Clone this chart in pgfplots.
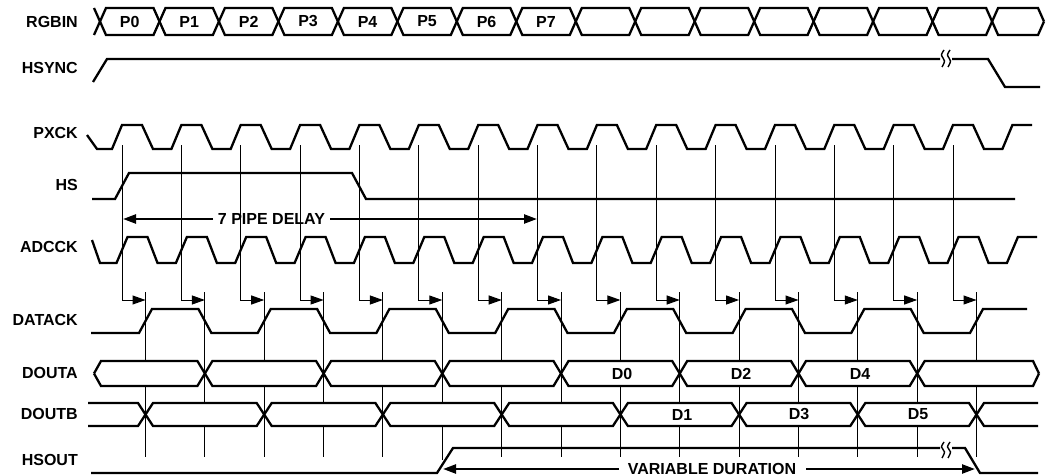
\documentclass[border=0pt]{standalone}
\usepackage{fontspec}
\setmainfont{Liberation Sans}
\usepackage{pgfplots}
\pgfplotsset{compat=1.18}
\usetikzlibrary{arrows.meta}
\tikzset{
  sig/.style={black,line width=2.3pt},
  thn/.style={black,line width=1.0pt},
  sq/.style={black,line width=1.4pt,smooth},
  tip/.style={-{Triangle[length=13pt,width=9pt]}},
  lab/.style={font=\bfseries\fontsize{16}{19}\selectfont, inner sep=0pt, text=black},
}
\begin{document}
\begin{tikzpicture}
\begin{axis}[width=1046pt,height=476pt,scale only axis,
  xmin=0,xmax=1046,ymin=0,ymax=476,y dir=reverse,hide axis,clip=false]
\addplot[draw=none] coordinates {(0,0) (1046,476)};
% ---------- signal names
\node[lab,anchor=east] at (axis cs:78,21.5) {RGBIN};
\node[lab,anchor=east] at (axis cs:78,68) {HSYNC};
\node[lab,anchor=east] at (axis cs:78,133) {PXCK};
\node[lab,anchor=east] at (axis cs:78,185) {HS};
\node[lab,anchor=east] at (axis cs:78,247) {ADCCK};
\node[lab,anchor=east] at (axis cs:78,320) {DATACK};
\node[lab,anchor=east] at (axis cs:78,373) {DOUTA};
\node[lab,anchor=east] at (axis cs:78,414) {DOUTB};
\node[lab,anchor=east] at (axis cs:78,460) {HSOUT};
% ---------- RGBIN bus
\addplot[sig] coordinates {(94,35) (106,8) (153.5,8) (165.5,35) (212.9,35) (224.9,8) (272.4,8) (284.4,35) (331.9,35) (343.9,8) (391.4,8) (403.4,35) (450.8,35) (462.8,8) (510.3,8) (522.3,35) (569.8,35) (581.8,8) (629.2,8) (641.2,35) (688.7,35) (700.7,8) (748.2,8) (760.2,35) (807.6,35) (819.6,8) (867.1,8) (879.1,35) (926.6,35) (938.6,8) (986.1,8) (998.1,35) (1038,35) (1044,21.5)};
\addplot[sig] coordinates {(94,8) (106,35) (153.5,35) (165.5,8) (212.9,8) (224.9,35) (272.4,35) (284.4,8) (331.9,8) (343.9,35) (391.4,35) (403.4,8) (450.8,8) (462.8,35) (510.3,35) (522.3,8) (569.8,8) (581.8,35) (629.2,35) (641.2,8) (688.7,8) (700.7,35) (748.2,35) (760.2,8) (807.6,8) (819.6,35) (867.1,35) (879.1,8) (926.6,8) (938.6,35) (986.1,35) (998.1,8) (1038,8) (1044,21.5)};
\node[lab] at (axis cs:129.7,21.5) {P0};
\node[lab] at (axis cs:189.2,21.5) {P1};
\node[lab] at (axis cs:248.7,21.5) {P2};
\node[lab] at (axis cs:308.1,21.5) {P3};
\node[lab] at (axis cs:367.6,21.5) {P4};
\node[lab] at (axis cs:427.1,21.5) {P5};
\node[lab] at (axis cs:486.6,21.5) {P6};
\node[lab] at (axis cs:546,21.5) {P7};
% ---------- HSYNC
\addplot[sig] coordinates {(93,82) (107,59) (940,59)};
\addplot[sig] coordinates {(952,59) (988,59) (1005,87) (1040,87)};
\addplot[sq] coordinates {(944,50) (941.5,55) (944.5,61) (942,67)};
\addplot[sq] coordinates {(950,50) (947.5,55) (950.5,61) (948,67)};
% ---------- PXCK
\addplot[sig] coordinates {(87,135) (97,149)
 (112,149) (122,125) (142,125) (153,149)
 (171.4,149) (181.4,125) (201.4,125) (212.4,149)
 (230.7,149) (240.7,125) (260.7,125) (271.7,149)
 (290.1,149) (300.1,125) (320.1,125) (331.1,149)
 (349.4,149) (359.4,125) (379.4,125) (390.4,149)
 (408.8,149) (418.8,125) (438.8,125) (449.8,149)
 (468.2,149) (478.2,125) (498.2,125) (509.2,149)
 (527.5,149) (537.5,125) (557.5,125) (568.5,149)
 (586.9,149) (596.9,125) (616.9,125) (627.9,149)
 (646.2,149) (656.2,125) (676.2,125) (687.2,149)
 (705.6,149) (715.6,125) (735.6,125) (746.6,149)
 (765,149) (775,125) (795,125) (806,149)
 (824.3,149) (834.3,125) (854.3,125) (865.3,149)
 (883.7,149) (893.7,125) (913.7,125) (924.7,149)
 (943,149) (953,125) (973,125) (984,149)
 (1002.4,149) (1012.4,125) (1032,125)};
% ---------- HS
\addplot[sig] coordinates {(92,199) (115,199) (129,173) (352,173) (366,199) (1015,199)};
% ---------- 7 PIPE DELAY
\addplot[sig,tip] coordinates {(213,219) (123,219)};
\addplot[sig,tip] coordinates {(330,219) (537,219)};
\node[lab] at (axis cs:271.5,219) {7 PIPE DELAY};
% ---------- ADCCK
\addplot[sig] coordinates {(92,240) (100,263)
 (116.5,263) (127.5,237) (147.5,237) (157.5,263)
 (175.9,263) (186.9,237) (206.9,237) (216.9,263)
 (235.2,263) (246.2,237) (266.2,237) (276.2,263)
 (294.6,263) (305.6,237) (325.6,237) (335.6,263)
 (353.9,263) (364.9,237) (384.9,237) (394.9,263)
 (413.3,263) (424.3,237) (444.3,237) (454.3,263)
 (472.7,263) (483.7,237) (503.7,237) (513.7,263)
 (532,263) (543,237) (563,237) (573,263)
 (591.4,263) (602.4,237) (622.4,237) (632.4,263)
 (650.7,263) (661.7,237) (681.7,237) (691.7,263)
 (710.1,263) (721.1,237) (741.1,237) (751.1,263)
 (769.5,263) (780.5,237) (800.5,237) (810.5,263)
 (828.8,263) (839.8,237) (859.8,237) (869.8,263)
 (888.2,263) (899.2,237) (919.2,237) (929.2,263)
 (947.5,263) (958.5,237) (978.5,237) (988.5,263)
 (1006.9,263) (1017.9,237) (1037,237)};
% ---------- guide lines from PXCK to DATACK
\addplot[thn,tip] coordinates {(122,145) (122,300) (145.5,300)};
\addplot[thn,tip] coordinates {(181.4,145) (181.4,300) (204.9,300)};
\addplot[thn,tip] coordinates {(240.7,145) (240.7,300) (264.2,300)};
\addplot[thn,tip] coordinates {(300.1,145) (300.1,300) (323.6,300)};
\addplot[thn,tip] coordinates {(359.4,145) (359.4,300) (382.9,300)};
\addplot[thn,tip] coordinates {(418.8,145) (418.8,300) (442.3,300)};
\addplot[thn,tip] coordinates {(478.2,145) (478.2,300) (501.7,300)};
\addplot[thn,tip] coordinates {(537.5,145) (537.5,300) (561.0,300)};
\addplot[thn,tip] coordinates {(596.9,145) (596.9,300) (620.4,300)};
\addplot[thn,tip] coordinates {(656.2,145) (656.2,300) (679.7,300)};
\addplot[thn,tip] coordinates {(715.6,145) (715.6,300) (739.1,300)};
\addplot[thn,tip] coordinates {(775.0,145) (775.0,300) (798.5,300)};
\addplot[thn,tip] coordinates {(834.3,145) (834.3,300) (857.8,300)};
\addplot[thn,tip] coordinates {(893.7,145) (893.7,300) (917.2,300)};
\addplot[thn,tip] coordinates {(953.0,145) (953.0,300) (976.5,300)};
% ---------- DATACK verticals (even: DOUTB edge, odd: DOUTA edge)
\addplot[thn] coordinates {(145.5,292) (145.5,361)};  \addplot[thn] coordinates {(145.5,386) (145.5,457)};
\addplot[thn] coordinates {(204.9,292) (204.9,403)};  \addplot[thn] coordinates {(204.9,426) (204.9,457)};
\addplot[thn] coordinates {(264.2,292) (264.2,361)};  \addplot[thn] coordinates {(264.2,386) (264.2,457)};
\addplot[thn] coordinates {(323.6,292) (323.6,403)};  \addplot[thn] coordinates {(323.6,426) (323.6,457)};
\addplot[thn] coordinates {(382.9,292) (382.9,361)};  \addplot[thn] coordinates {(382.9,386) (382.9,457)};
\addplot[thn] coordinates {(442.3,292) (442.3,403)};  \addplot[thn] coordinates {(442.3,426) (442.3,460)};
\addplot[thn] coordinates {(501.7,292) (501.7,361)};  \addplot[thn] coordinates {(501.7,386) (501.7,457)};
\addplot[thn] coordinates {(561.0,292) (561.0,403)};  \addplot[thn] coordinates {(561.0,426) (561.0,457)};
\addplot[thn] coordinates {(620.4,292) (620.4,361)};  \addplot[thn] coordinates {(620.4,386) (620.4,457)};
\addplot[thn] coordinates {(679.7,292) (679.7,403)};  \addplot[thn] coordinates {(679.7,426) (679.7,457)};
\addplot[thn] coordinates {(739.1,292) (739.1,361)};  \addplot[thn] coordinates {(739.1,386) (739.1,457)};
\addplot[thn] coordinates {(798.5,292) (798.5,403)};  \addplot[thn] coordinates {(798.5,426) (798.5,457)};
\addplot[thn] coordinates {(857.8,292) (857.8,361)};  \addplot[thn] coordinates {(857.8,386) (857.8,457)};
\addplot[thn] coordinates {(917.2,292) (917.2,403)};  \addplot[thn] coordinates {(917.2,426) (917.2,457)};
\addplot[thn] coordinates {(976.5,292) (976.5,361)};  \addplot[thn] coordinates {(976.5,386) (976.5,457)};
% ---------- DATACK
\addplot[sig] coordinates {(91,333)
 (139,333) (152,309) (198.4,309) (211.4,333)
 (257.7,333) (270.7,309) (317.1,309) (330.1,333)
 (376.4,333) (389.4,309) (435.8,309) (448.8,333)
 (495.2,333) (508.2,309) (554.5,309) (567.5,333)
 (613.9,333) (626.9,309) (673.2,309) (686.2,333)
 (732.6,333) (745.6,309) (792,309) (805,333)
 (851.3,333) (864.3,309) (910.7,309) (923.7,333)
 (970,333) (983,309) (1027,309)};
% ---------- DOUTA bus
\addplot[sig] coordinates {(94,373.5) (101,361) (197.4,361) (212.4,386) (316.1,386) (331.1,361) (434.8,361) (449.8,386) (553.5,386) (568.5,361) (672.2,361) (687.2,386) (791,386) (806,361) (909.7,361) (924.7,386) (1033,386) (1039,373.5)};
\addplot[sig] coordinates {(94,373.5) (101,386) (197.4,386) (212.4,361) (316.1,361) (331.1,386) (434.8,386) (449.8,361) (553.5,361) (568.5,386) (672.2,386) (687.2,361) (791,361) (806,386) (909.7,386) (924.7,361) (1033,361) (1039,373.5)};
\node[lab] at (axis cs:622,373.5) {D0};
\node[lab] at (axis cs:741,373.5) {D2};
\node[lab] at (axis cs:860,373.5) {D4};
% ---------- DOUTB bus
\addplot[sig] coordinates {(88,403) (138,403) (153,426) (256.7,426) (271.7,403) (375.4,403) (390.4,426) (494.2,426) (509.2,403) (612.9,403) (627.9,426) (731.6,426) (746.6,403) (850.3,403) (865.3,426) (969,426) (984,403) (1038,403)};
\addplot[sig] coordinates {(88,426) (138,426) (153,403) (256.7,403) (271.7,426) (375.4,426) (390.4,403) (494.2,403) (509.2,426) (612.9,426) (627.9,403) (731.6,403) (746.6,426) (850.3,426) (865.3,403) (969,403) (984,426) (1038,426)};
\node[lab] at (axis cs:682,414.5) {D1};
\node[lab] at (axis cs:799,414.5) {D3};
\node[lab] at (axis cs:918,414.5) {D5};
% ---------- HSOUT
\addplot[sig] coordinates {(91,473) (437,473) (453,448) (940,448)};
\addplot[sig] coordinates {(952,448) (965,448) (980,473) (1038,473)};
\addplot[sq] coordinates {(944,442) (941.5,447) (944.5,452) (942,458)};
\addplot[sq] coordinates {(950,442) (947.5,447) (950.5,452) (948,458)};
\addplot[sig,tip] coordinates {(619,469) (443,469)};
\addplot[sig,tip] coordinates {(806,469) (975,469)};
\node[lab] at (axis cs:712,469) {VARIABLE DURATION};
\end{axis}
\end{tikzpicture}
\end{document}
